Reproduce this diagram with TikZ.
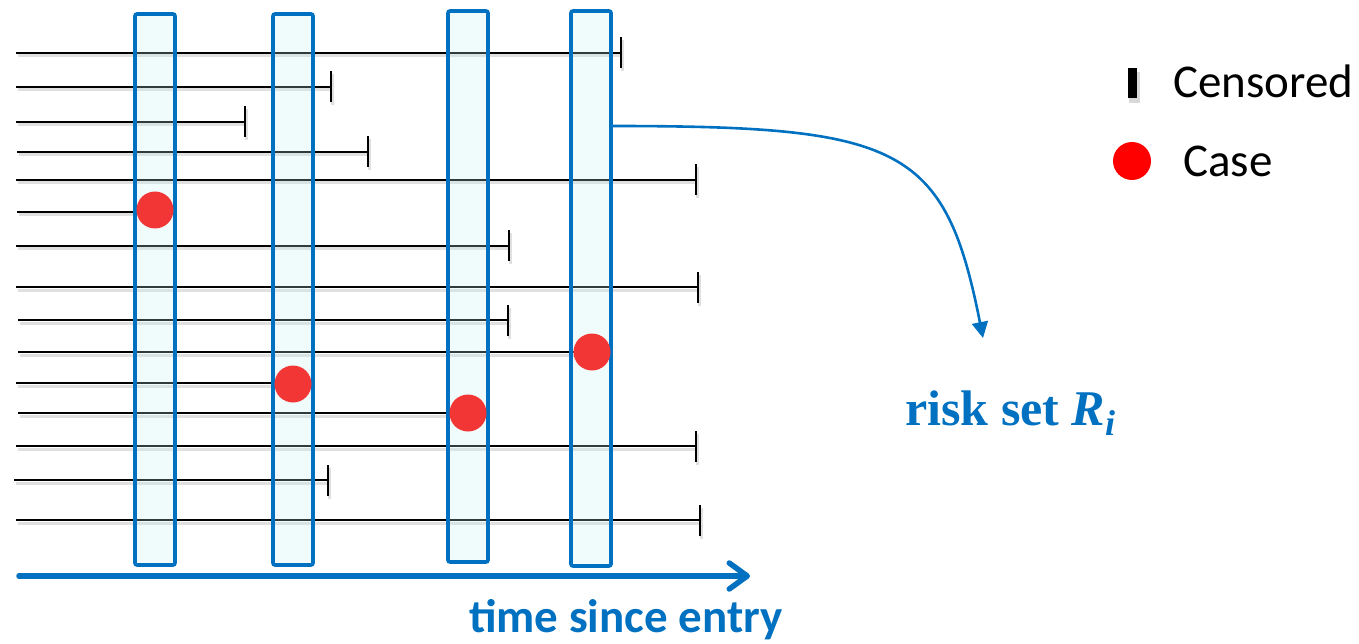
\documentclass[tikz,border=0pt]{standalone}
\usepackage{fontspec}
\setmainfont{Carlito}
\newfontfamily\timesfam{Liberation Serif}
\usetikzlibrary{arrows.meta}

\definecolor{officeblue}{RGB}{0,112,192}
\definecolor{stripfill}{RGB}{195,243,243}
\definecolor{caseRed}{RGB}{242,54,54}

\tikzset{
  subject/.style={line width=2.2pt, black,
    preaction={draw=black!12, line width=3pt,
      transform canvas={shift={(1.5pt,-3pt)}}}},
  censor/.style={rectangle, fill=black, inner sep=0pt, outer sep=0pt,
    minimum width=2.6pt, minimum height=31pt},
  casedot/.style={circle, fill=caseRed, inner sep=0pt, minimum size=37pt},
  riskstrip/.style={rectangle, draw=officeblue, line width=3.6pt,
    fill=stripfill, fill opacity=0.25, draw opacity=1,
    rounded corners=2pt, minimum width=40pt, inner sep=0pt, outer sep=0pt},
  axisarrow/.style={officeblue, line width=5.5pt, line cap=round,
    -{Straight Barb[length=18pt, width=26pt, line cap=round, line join=round]}},
  pointer/.style={officeblue, line width=2.6pt,
    -{Triangle[length=16pt, width=16pt]}},
  legendtext/.style={anchor=base west, inner sep=0pt, font=\fontsize{47}{56}\selectfont},
}

\begin{document}
\begin{tikzpicture}[x=1pt, y=-1pt]
  \useasboundingbox (0,0) rectangle (1359,644);

  % follow-up lines ending in censoring
  \foreach \n/\y/\xa/\xb in {1/53/16/621, 2/87/16/331, 3/122/16/245,
      4/152/17/368, 5/180/16/696, 7/246/16/509, 8/287/16/698,
      9/320/18/508, 13/446/16/696, 14/480/14/328, 15/520/16/700} {
    \coordinate (s\n) at (\xa,\y);
    \node[censor] (e\n) at (\xb,\y) {};
    \draw[subject] (s\n) -- (e\n.center);
    \fill[black!12] ([shift={(1.5pt,-3pt)}]e\n.south west) rectangle ([shift={(1.5pt,-3pt)}]e\n.north east);
    \node[censor] at (e\n) {};
  }

  % follow-up lines ending in a case
  \foreach \n/\y/\xa/\xb in {6/212/17/155, 10/352/18/592,
      11/383/16/293, 12/413/18/468} {
    \coordinate (s\n) at (\xa,\y);
    \coordinate (e\n) at (\xb,\y);
    \draw[subject] (s\n) -- (e\n);
  }

  % risk-set strips at the event times
  \node[riskstrip, minimum height=551pt] (r1) at (155,289.5) {};
  \node[riskstrip, minimum height=551pt] (r2) at (293,289.5) {};
  \node[riskstrip, minimum height=551pt] (r3) at (468,286.5) {};
  \node[riskstrip, minimum height=555pt] (r4) at (591,288.5) {};

  % cases
  \node[casedot] (c1) at (155,210) {};
  \node[casedot] (c2) at (293,384) {};
  \node[casedot] (c3) at (468,413) {};
  \node[casedot] (c4) at (592,352) {};

  % time axis
  \coordinate (t0) at (19,576);
  \coordinate (t1) at (750,576);
  \draw[axisarrow] (t0) -- (t1);
  \node[anchor=base west, inner sep=0pt, text=officeblue,
        font=\fontsize{47}{56}\selectfont\bfseries] (tlabel) at (469,632) {time since entry};

  % risk set label and pointer
  \node[anchor=base west, inner sep=0pt, text=officeblue,
        font=\timesfam\fontsize{50}{60}\selectfont\bfseries] (risk) at (905,425)
        {risk set \textit{R}\raisebox{-10pt}{\fontsize{36}{36}\selectfont\itshape i}};
  \coordinate (src) at ([yshift=-115pt]r4.north east);
  \coordinate (dst) at (983,338);
  \draw[pointer] (src) .. controls (900,126) and (945,145) .. (dst);

  % legend
  \fill[black!15] (1129,72) rectangle (1140,103);
  \node[rectangle, fill=black, inner sep=0pt, minimum width=9pt,
        minimum height=30pt] (lgcens) at (1132,83) {};
  \node[legendtext] (lgcenst) at (1173,98) {Censored};
  \node[circle, fill=red, inner sep=0pt, minimum size=38pt] (lgcase) at (1132,161) {};
  \node[legendtext] (lgcaset) at (1183,177) {Case};
\end{tikzpicture}
\end{document}
